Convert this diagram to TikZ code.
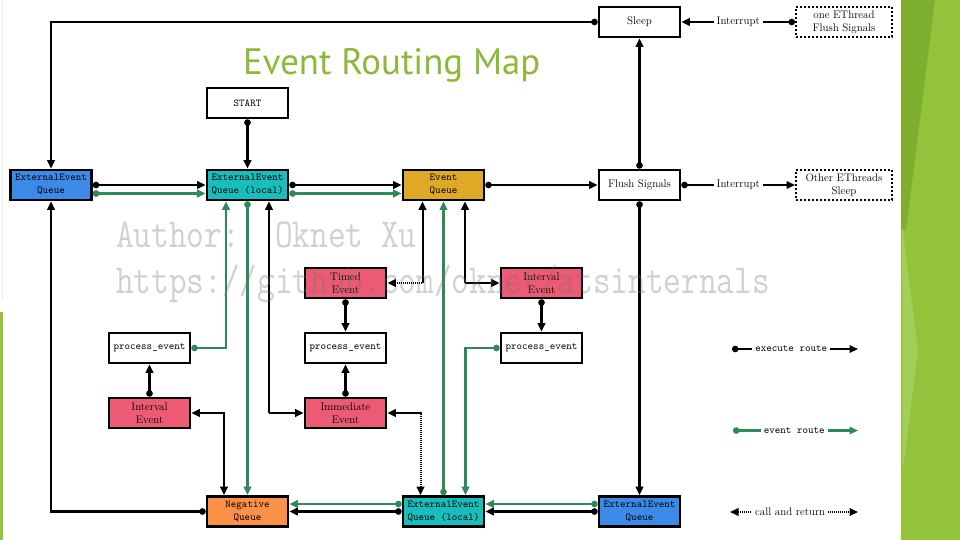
\documentclass[tikz,border=0pt]{standalone}
\usepackage{fontspec}
\newfontfamily\titlefont{PT Sans}
\usetikzlibrary{arrows.meta}
\definecolor{qblue}{RGB}{60,138,232}
\definecolor{qteal}{RGB}{24,190,190}
\definecolor{qgold}{RGB}{222,169,38}
\definecolor{qred}{RGB}{236,90,116}
\definecolor{qorange}{RGB}{250,145,70}
\definecolor{evgreen}{RGB}{46,139,87}
\definecolor{titlegreen}{RGB}{140,186,56}
\definecolor{bandgreen}{RGB}{146,195,59}
\definecolor{banddark}{RGB}{125,174,46}
\definecolor{bandlight}{RGB}{165,206,86}
\tikzset{
  box/.style={draw, line width=2.6pt, minimum width=81pt, minimum height=30pt,
    inner sep=1pt, align=center, font=\fontsize{10.5}{13}\selectfont\ttfamily},
  pbox/.style={box, font=\fontsize{11}{13}\selectfont\rmfamily},
  dbox/.style={draw, line width=2pt, dotted, minimum width=96pt, minimum height=30pt,
    inner sep=1pt, align=center, font=\fontsize{11}{13}\selectfont\rmfamily},
  exe/.style={line width=2.2pt, {Circle[length=6.5pt]}-{Triangle[length=8.5pt,width=7.5pt]}},
  evt/.style={exe, draw=evgreen},
  car/.style={line width=2pt, dash pattern=on 1.4pt off 0.6pt,
    {Triangle[length=8.5pt,width=7.5pt]}-{Triangle[length=8.5pt,width=7.5pt]}},
  lbl/.style={fill=white, inner xsep=3pt, inner ysep=1pt},
  lblrm/.style={lbl, font=\fontsize{11}{13}\selectfont\rmfamily},
  lbltt/.style={lbl, font=\fontsize{10.5}{13}\selectfont\ttfamily},
  wm/.style={anchor=base west, inner sep=0pt, text=black!55, text opacity=0.33,
    font=\fontsize{34.3}{40}\selectfont\ttfamily},
}
\begin{document}
\begin{tikzpicture}[x=1pt,y=-1pt]
\useasboundingbox (0,0) rectangle (960,540);
% background
\fill[white] (0,0) rectangle (960,540);
\fill[bandgreen] (901,0) rectangle (960,540);
\fill[banddark] (901,0) -- (935,0) -- (906,230) -- (901,230) -- cycle;
\fill[bandlight] (902,225) -- (918,350) -- (903,470) -- cycle;
\fill[black!8] (1.5,0) rectangle (3,300);
\fill[bandgreen] (0,312) rectangle (2.5,540);

% title
\node[anchor=base west, inner sep=0pt, text=titlegreen] (title) at (243,75)
  {\resizebox{297pt}{!}{\titlefont Event Routing Map}};

% nodes
\node[pbox] (sleep) at (639.5,22) {Sleep};
\node[dbox] (onet) at (844,22) {one EThread\\Flush Signals};
\node[box] (start) at (247.5,103) {START};
\node[box, fill=qblue] (eqL) at (51,185) {ExternalEvent\\Queue};
\node[box, fill=qteal] (lq) at (247.5,185) {ExternalEvent\\Queue (local)};
\node[box, fill=qgold] (eq) at (443.5,185) {Event\\Queue};
\node[pbox] (fs) at (639.5,185) {Flush Signals};
\node[dbox] (other) at (844,185) {Other EThreads\\Sleep};
\node[pbox, fill=qred] (timed) at (345.5,283) {Timed\\Event};
\node[pbox, fill=qred] (ivR) at (541.5,283) {Interval\\Event};
\node[box] (peL) at (149.5,348) {process\_event};
\node[box] (peM) at (345.5,348) {process\_event};
\node[box] (peR) at (541.5,348) {process\_event};
\node[pbox, fill=qred] (ivL) at (149.5,413) {Interval\\Event};
\node[pbox, fill=qred] (imm) at (345.5,413) {Immediate\\Event};
\node[box, fill=qorange] (neg) at (247.5,511.5) {Negative\\Queue};
\node[box, fill=qteal] (lqB) at (443.5,511.5) {ExternalEvent\\Queue (local)};
\node[box, fill=qblue] (eqB) at (639.5,511.5) {ExternalEvent\\Queue};

% execute routes
\draw[exe] (sleep.west) -| (eqL.north);
\draw[exe] (start.south) -- (lq.north);
\draw[exe] (eqL.east) -- (lq.west);
\draw[exe] (lq.east) -- (eq.west);
\draw[exe] (eq.east) -- (fs.west);
\draw[exe] (fs.north) -- (sleep.south);
\draw[exe] (fs.east) -- node[lblrm] (int2) {Interrupt} (other.west);
\draw[exe] (onet.west) -- node[lblrm] (int1) {Interrupt} (sleep.east);
\draw[exe] (fs.south) -- (eqB.north);
\draw[exe] (eqB.west) -- (lqB.east);
\draw[exe] (lqB.west) -- (neg.east);
\draw[exe] (neg.west) -| (eqL.south);
\draw[exe] (ivL.north) -- (peL.south);
\draw[exe] (timed.south) -- (peM.north);
\draw[exe] (imm.north) -- (peM.south);
\draw[exe] (ivR.south) -- (peR.north);

% event routes
\draw[evt] ([yshift=-8.5pt]eqL.east) -- ([yshift=-8.5pt]lq.west);
\draw[evt] ([yshift=-8.5pt]lq.east) -- ([yshift=-8.5pt]eq.west);
\draw[evt] (peL.east) -| ([xshift=-21.5pt]lq.south);
\draw[evt] (lq.south) -- (neg.north);
\draw[evt] (lqB.north) -- (eq.south);
\draw[evt] (peR.west) -| ([xshift=22pt]lqB.north);
\draw[evt] ([yshift=7.5pt]eqB.west) -- ([yshift=7.5pt]lqB.east);
\draw[evt] ([yshift=7.5pt]lqB.west) -- ([yshift=7.5pt]neg.east);

% call and return
\draw[car] ([xshift=21.5pt]lq.south) |- (imm.west);
\draw[car] (ivL.east) -| ([xshift=-23.5pt]neg.north);
\draw[car] ([xshift=-21pt]eq.south) |- (timed.east);
\draw[car] ([xshift=21.5pt]eq.south) |- (ivR.west);
\draw[car] (imm.east) -| ([xshift=-23pt]lqB.north);

% legend
\coordinate (l1a) at (732,349); \coordinate (l1b) at (858,349);
\coordinate (l2a) at (733,430.5); \coordinate (l2b) at (858,430.5);
\coordinate (l3a) at (730,512); \coordinate (l3b) at (858,512);
\draw[exe] (l1a) -- node[lbltt, pos=0.47] (leg1) {execute route} (l1b);
\draw[evt] (l2a) -- node[lbltt, pos=0.49] (leg2) {event route} (l2b);
\draw[car] (l3a) -- node[lblrm, pos=0.47, solid] (leg3) {call and return} (l3b);

% watermark
\node[wm] (wm1) at (116,247) {\scalebox{1}[1.2]{Author:\ \ Oknet Xu}};
\node[wm] (wm2) at (116,293) {\scalebox{1}[1.2]{https://github.com/oknet/atsinternals}};
\end{tikzpicture}
\end{document}
